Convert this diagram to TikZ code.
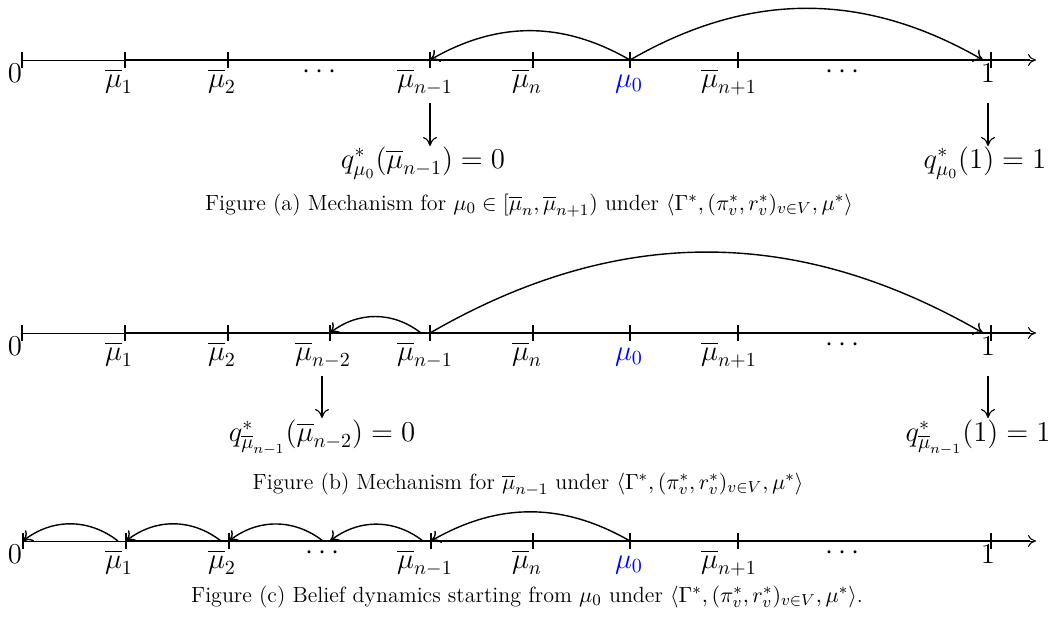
\documentclass[tikz,border=0pt]{standalone}
\usepackage{amsmath,amssymb}
\usepackage{tikz}
\usepackage{xcolor}
\usetikzlibrary{arrows.meta}

\begin{document}
\begin{tikzpicture}[x=0.5pt, y=0.5pt,
    every node/.style={font=\Large},
    lab/.style={anchor=base},
    axisline/.style={-{To[length=4pt,width=6pt]}, line width=0.5pt},
    axisbold/.style={line width=#1},
    tickmark/.style={line width=0.6pt},
    hop/.style={-{To[length=4.5pt,width=7pt]}, line width=0.7pt},
    down/.style={-{To[length=4.5pt,width=7pt]}, line width=0.6pt},
    caption/.style={anchor=base, font=\fontsize{11}{13}\selectfont}]
  \useasboundingbox (0,0) rectangle (1053,-616);

  % ---- figure (a) ----
  \coordinate (a0) at (22,-60);
  \coordinate (a1) at (125,-60);
  \coordinate (a2) at (228,-60);
  \coordinate (an1) at (430,-60);
  \coordinate (an) at (533,-60);
  \coordinate (amu) at (630,-60);
  \coordinate (anp) at (738,-60);
  \coordinate (aone) at (991,-60);
  \coordinate (aarr) at (1036,-60);
  \coordinate (astop) at (1030,-60);
  \draw[axisline] (a0) -- (aarr);
  \draw[axisbold=0.9pt] (a1) -- (astop);
  \draw[tickmark] (a0) ++(0,8) -- ++(0,-16);
  \draw[tickmark] (a1) ++(0,8) -- ++(0,-16);
  \draw[tickmark] (a2) ++(0,8) -- ++(0,-16);
  \draw[tickmark] (an1) ++(0,8) -- ++(0,-16);
  \draw[tickmark] (an) ++(0,8) -- ++(0,-16);
  \draw[tickmark] (amu) ++(0,8) -- ++(0,-16);
  \draw[tickmark] (anp) ++(0,8) -- ++(0,-16);
  \draw[tickmark] (aone) ++(0,8) -- ++(0,-16);
  \node[lab] (a0l) at (15,-82) {$0$};
  \node[lab] (a1l) at (119,-87) {$\overline{\mu}_1$};
  \node[lab] (a2l) at (222,-87) {$\overline{\mu}_2$};
  \node[lab] (adots1) at (322,-78) {$\cdots$};
  \node[lab] (an1l) at (425,-87) {$\overline{\mu}_{n-1}$};
  \node[lab] (anl) at (527,-87) {$\overline{\mu}_n$};
  \node[lab] (amul) at (629,-87) {\color{blue}$\mu_0$};
  \node[lab] (anpl) at (729,-87) {$\overline{\mu}_{n+1}$};
  \node[lab] (adots2) at (845,-78) {$\cdots$};
  \node[lab] (aonel) at (988,-82) {$1$};
  \draw[hop] (amu) to[bend right=30] (an1);
  \draw[hop] (amu) to[bend left=30] ([xshift=-4pt]aone);
  \coordinate (aq1top) at (430,-103);
  \coordinate (aq1bot) at (430,-146);
  \coordinate (aq2top) at (988,-103);
  \coordinate (aq2bot) at (988,-146);
  \draw[down] (aq1top) -- (aq1bot);
  \draw[down] (aq2top) -- (aq2bot);
  \node[lab] (aq1) at (423,-168) {$q^*_{\mu_0}(\overline{\mu}_{n-1}) = 0$};
  \node[lab] (aq2) at (985,-168) {$q^*_{\mu_0}(1) = 1$};
  \node[caption] (acap) at (529,-210) {Figure (a) Mechanism for $\mu_0\in[\overline{\mu}_n,\overline{\mu}_{n+1})$ under $\langle\Gamma^*,(\pi^*_v,r^*_v)_{v\in V},\mu^*\rangle$};

  % ---- figure (b) ----
  \coordinate (b0) at (22,-333);
  \coordinate (b1) at (125,-333);
  \coordinate (b2) at (228,-333);
  \coordinate (bn2) at (330,-333);
  \coordinate (bn1) at (430,-333);
  \coordinate (bn) at (533,-333);
  \coordinate (bmu) at (630,-333);
  \coordinate (bnp) at (738,-333);
  \coordinate (bone) at (991,-333);
  \coordinate (barr) at (1036,-333);
  \coordinate (bstop) at (1030,-333);
  \draw[axisline] (b0) -- (barr);
  \draw[axisbold=0.8pt] (b1) -- (bstop);
  \draw[axisbold=1.1pt] (bn1) -- (bstop);
  \draw[tickmark] (b0) ++(0,8) -- ++(0,-16);
  \draw[tickmark] (b1) ++(0,8) -- ++(0,-16);
  \draw[tickmark] (b2) ++(0,8) -- ++(0,-16);
  \draw[tickmark] (bn2) ++(0,8) -- ++(0,-16);
  \draw[tickmark] (bn1) ++(0,8) -- ++(0,-16);
  \draw[tickmark] (bn) ++(0,8) -- ++(0,-16);
  \draw[tickmark] (bmu) ++(0,8) -- ++(0,-16);
  \draw[tickmark] (bnp) ++(0,8) -- ++(0,-16);
  \draw[tickmark] (bone) ++(0,8) -- ++(0,-16);
  \node[lab] (b0l) at (15,-355) {$0$};
  \node[lab] (b1l) at (119,-360) {$\overline{\mu}_1$};
  \node[lab] (b2l) at (222,-360) {$\overline{\mu}_2$};
  \node[lab] (bn2l) at (323,-360) {$\overline{\mu}_{n-2}$};
  \node[lab] (bn1l) at (425,-360) {$\overline{\mu}_{n-1}$};
  \node[lab] (bnl) at (527,-360) {$\overline{\mu}_n$};
  \node[lab] (bmul) at (629,-360) {\color{blue}$\mu_0$};
  \node[lab] (bnpl) at (729,-360) {$\overline{\mu}_{n+1}$};
  \node[lab] (bdots) at (845,-351) {$\cdots$};
  \node[lab] (bonel) at (988,-355) {$1$};
  \draw[hop] ([xshift=-4.5pt]bn1) to[bend right=38] (bn2);
  \draw[hop] (bn1) to[bend left=30] ([xshift=-4pt]bone);
  \coordinate (bq1top) at (322,-376);
  \coordinate (bq1bot) at (322,-418);
  \coordinate (bq2top) at (988,-376);
  \coordinate (bq2bot) at (988,-418);
  \draw[down] (bq1top) -- (bq1bot);
  \draw[down] (bq2top) -- (bq2bot);
  \node[lab] (bq1) at (322,-441) {$q^*_{\overline{\mu}_{n-1}}(\overline{\mu}_{n-2}) = 0$};
  \node[lab] (bq2) at (978,-441) {$q^*_{\overline{\mu}_{n-1}}(1) = 1$};
  \node[caption] (bcap) at (528,-489) {Figure (b) Mechanism for $\overline{\mu}_{n-1}$ under $\langle\Gamma^*,(\pi^*_v,r^*_v)_{v\in V},\mu^*\rangle$};

  % ---- figure (c) ----
  \coordinate (c0) at (23,-541);
  \coordinate (c1) at (126,-541);
  \coordinate (c2) at (229,-541);
  \coordinate (cdt) at (330,-541);
  \coordinate (cn1) at (431,-541);
  \coordinate (cn) at (533,-541);
  \coordinate (cmu) at (630,-541);
  \coordinate (cnp) at (738,-541);
  \coordinate (cone) at (991,-541);
  \coordinate (carr) at (1036,-541);
  \coordinate (cstop) at (1030,-541);
  \draw[axisline] (c0) -- (carr);
  \draw[axisbold=0.7pt] (c1) -- (cstop);
  \draw[axisbold=1pt] (c2) -- (cstop);
  \draw[axisbold=1.3pt] (cn1) -- (cstop);
  \draw[tickmark] (c0) ++(0,8) -- ++(0,-16);
  \draw[tickmark] (c1) ++(0,8) -- ++(0,-16);
  \draw[tickmark] (c2) ++(0,8) -- ++(0,-16);
  \draw[tickmark] (cn1) ++(0,8) -- ++(0,-16);
  \draw[tickmark] (cn) ++(0,8) -- ++(0,-16);
  \draw[tickmark] (cmu) ++(0,8) -- ++(0,-16);
  \draw[tickmark] (cnp) ++(0,8) -- ++(0,-16);
  \draw[tickmark] (cone) ++(0,8) -- ++(0,-16);
  \node[lab] (c0l) at (15,-563) {$0$};
  \node[lab] (c1l) at (119,-568) {$\overline{\mu}_1$};
  \node[lab] (c2l) at (222,-568) {$\overline{\mu}_2$};
  \node[lab] (cdots1) at (325,-559) {$\cdots$};
  \node[lab] (cn1l) at (425,-568) {$\overline{\mu}_{n-1}$};
  \node[lab] (cnl) at (527,-568) {$\overline{\mu}_n$};
  \node[lab] (cmul) at (629,-568) {\color{blue}$\mu_0$};
  \node[lab] (cnpl) at (729,-568) {$\overline{\mu}_{n+1}$};
  \node[lab] (cdots2) at (845,-559) {$\cdots$};
  \node[lab] (conel) at (988,-563) {$1$};
  \draw[hop] (cmu) to[bend right=30] (cn1);
  \draw[hop] ([xshift=-4pt]cn1) to[bend right=38] (cdt);
  \draw[hop] ([xshift=-3.5pt]cdt) to[bend right=38] (c2);
  \draw[hop] ([xshift=-4pt]c2) to[bend right=38] (c1);
  \draw[hop] ([xshift=-4pt]c1) to[bend right=38] (c0);
  \node[caption] (ccap) at (527,-602) {Figure (c) Belief dynamics starting from $\mu_0$ under $\langle\Gamma^*,(\pi^*_v,r^*_v)_{v\in V},\mu^*\rangle$.};
\end{tikzpicture}
\end{document}
